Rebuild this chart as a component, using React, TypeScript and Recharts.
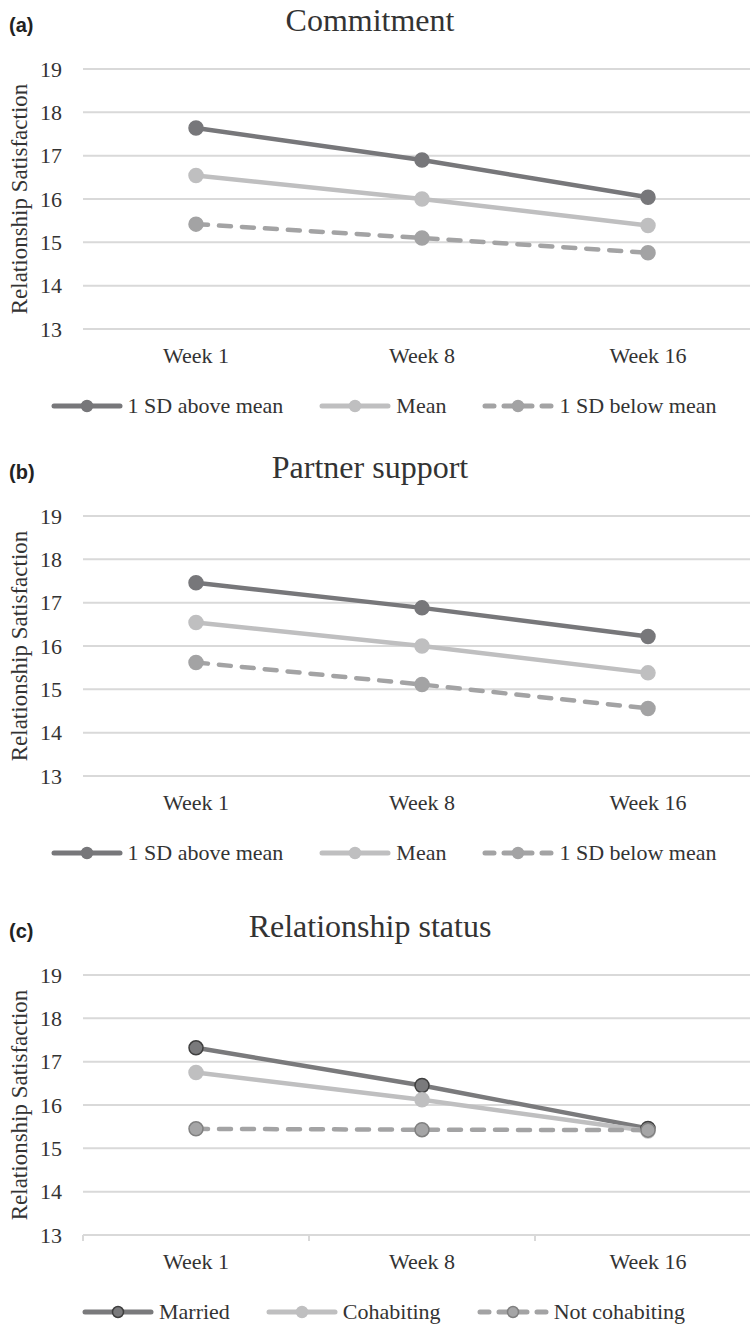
import { LineChart, Line, XAxis, YAxis, CartesianGrid, Legend, Label } from "recharts";

const weeks = ["Week 1", "Week 8", "Week 16"];
const yTicks = [13, 14, 15, 16, 17, 18, 19];

// (a) Commitment
const commitAbove = [17.64, 16.9, 16.04];
const commitMean = [16.54, 16.0, 15.39];
const commitBelow = [15.42, 15.1, 14.76];

// (b) Partner support
const supportAbove = [17.46, 16.88, 16.22];
const supportMean = [16.54, 16.0, 15.38];
const supportBelow = [15.62, 15.11, 14.56];

// (c) Relationship status
const married = [17.32, 16.45, 15.46];
const cohabiting = [16.75, 16.12, 15.4];
const notCohabiting = [15.45, 15.43, 15.42];

const sdNames = ["1 SD above mean", "Mean", "1 SD below mean"];
const statusNames = ["Married", "Cohabiting", "Not cohabiting"];

const SERIF = '"Liberation Serif", "Times New Roman", serif';
const SANS = '"Liberation Sans", Arial, sans-serif';
const TEXT = "#333333";
const GRID = "#d9d9d9";
const CHART_W = 761;
const Y_W = 83;
const BAND = (CHART_W - Y_W) / weeks.length;

type Style = { color: string; dash?: string; dotFill: string; dotStroke: string };

const sdStyles: Style[] = [
  { color: "#77777a", dotFill: "#77777a", dotStroke: "#77777a" },
  { color: "#bfbfc0", dotFill: "#bfbfc0", dotStroke: "#bfbfc0" },
  { color: "#a3a3a4", dash: "12 11", dotFill: "#a3a3a4", dotStroke: "#a3a3a4" },
];
const statusStyles: Style[] = [
  { color: "#7a7a7c", dotFill: "#7a7a7c", dotStroke: "#3f3f3f" },
  { color: "#bfbfc0", dotFill: "#bfbfc0", dotStroke: "#bfbfc0" },
  { color: "#a3a3a4", dash: "12 11", dotFill: "#a5a5a6", dotStroke: "#808080" },
];

function buildRows(series: number[][]) {
  return weeks.map((w, i) => {
    const row: any = { week: w };
    series.forEach((s, k) => (row["s" + k] = s[i]));
    return row;
  });
}

function LegendBox(props: { names: string[]; styles: Style[] }) {
  return (
    <div style={{ display: "flex", justifyContent: "center", alignItems: "center", height: 30, gap: 36, paddingLeft: 6 }}>
      {props.names.map((n, i) => {
        const st = props.styles[i];
        return (
          <div key={n} style={{ display: "flex", alignItems: "center", gap: 5 }}>
            <svg width={72} height={16}>
              <line
                x1={3}
                x2={69}
                y1={8}
                y2={8}
                stroke={st.color}
                strokeWidth={5}
                strokeLinecap="round"
                strokeDasharray={st.dash ? "9 10" : undefined}
              />
              <circle cx={36} cy={8} r={5.5} fill={st.dotFill} stroke={st.dotStroke} strokeWidth={1.5} />
            </svg>
            <span style={{ fontFamily: SERIF, fontSize: 22, color: TEXT }}>{n}</span>
          </div>
        );
      })}
    </div>
  );
}

function YTitle(p: any) {
  const vb = p.viewBox;
  const cy = vb.y + vb.height / 2;
  return (
    <text
      transform={`translate(19, ${cy}) rotate(-90)`}
      textAnchor="middle"
      dominantBaseline="central"
      fontFamily={SERIF}
      fontSize={23}
      fill={TEXT}
    >
      Relationship Satisfaction
    </text>
  );
}

function Panel(props: {
  top: number;
  tag: string;
  title: string;
  series: number[][];
  names: string[];
  styles: Style[];
  bandTicks?: boolean;
}) {
  const rows = buildRows(props.series);
  const renderTick = (p: any) => (
    <g>
      <text x={p.x} y={p.y} dy={26} textAnchor="middle" fontFamily={SERIF} fontSize={22} fill={TEXT}>
        {p.payload.value}
      </text>
      {props.bandTicks && (
        <line x1={p.x - BAND / 2} x2={p.x - BAND / 2} y1={p.y - 8} y2={p.y - 2} stroke={GRID} strokeWidth={2} />
      )}
    </g>
  );
  return (
    <div style={{ position: "absolute", left: 0, top: props.top, width: 750, height: 445, overflow: "hidden" }}>
      <svg width={750} height={50} style={{ position: "absolute", left: 0, top: 0 }}>
        <text x={9} y={32} fontFamily={SANS} fontWeight="bold" fontSize={20} fill="#222">
          {props.tag}
        </text>
        <text x={370} y={31} textAnchor="middle" fontFamily={SERIF} fontSize={32} fill={TEXT}>
          {props.title}
        </text>
      </svg>
      <LineChart width={CHART_W} height={431} data={rows} margin={{ top: 69, right: 0, bottom: 10, left: 0 }}>
        <CartesianGrid vertical={false} stroke={GRID} strokeWidth={2} />
        <XAxis
          dataKey="week"
          scale="band"
          height={62}
          tickLine={false}
          axisLine={props.bandTicks ? { stroke: GRID, strokeWidth: 2 } : false}
          tick={renderTick}
          interval={0}
        />
        <YAxis
          width={Y_W}
          domain={[13, 19]}
          ticks={yTicks}
          tickLine={false}
          axisLine={false}
          tickMargin={15}
          tick={{ fontFamily: SERIF, fontSize: 22, fill: TEXT }}
        >
          <Label content={YTitle} />
        </YAxis>
        <Legend verticalAlign="bottom" content={() => <LegendBox names={props.names} styles={props.styles} />} />
        {props.series.map((_, k) => {
          const st = props.styles[k];
          return (
            <Line
              key={k}
              type="linear"
              dataKey={"s" + k}
              name={props.names[k]}
              stroke={st.color}
              strokeWidth={4.5}
              strokeDasharray={st.dash}
              strokeLinecap="round"
              dot={{ r: 7, fill: st.dotFill, stroke: st.dotStroke, strokeWidth: 1.5, strokeDasharray: "" }}
              activeDot={false}
              isAnimationActive={false}
            />
          );
        })}
      </LineChart>
    </div>
  );
}

export default function App() {
  return (
    <div style={{ position: "absolute", left: 0, top: 0, width: 750, height: 1324, background: "#fff" }}>
      <Panel
        top={0}
        tag="(a)"
        title="Commitment"
        series={[commitAbove, commitMean, commitBelow]}
        names={sdNames}
        styles={sdStyles}
      />
      <Panel
        top={447}
        tag="(b)"
        title="Partner support"
        series={[supportAbove, supportMean, supportBelow]}
        names={sdNames}
        styles={sdStyles}
      />
      <Panel
        top={906}
        tag="(c)"
        title="Relationship status"
        series={[married, cohabiting, notCohabiting]}
        names={statusNames}
        styles={statusStyles}
        bandTicks
      />
    </div>
  );
}
